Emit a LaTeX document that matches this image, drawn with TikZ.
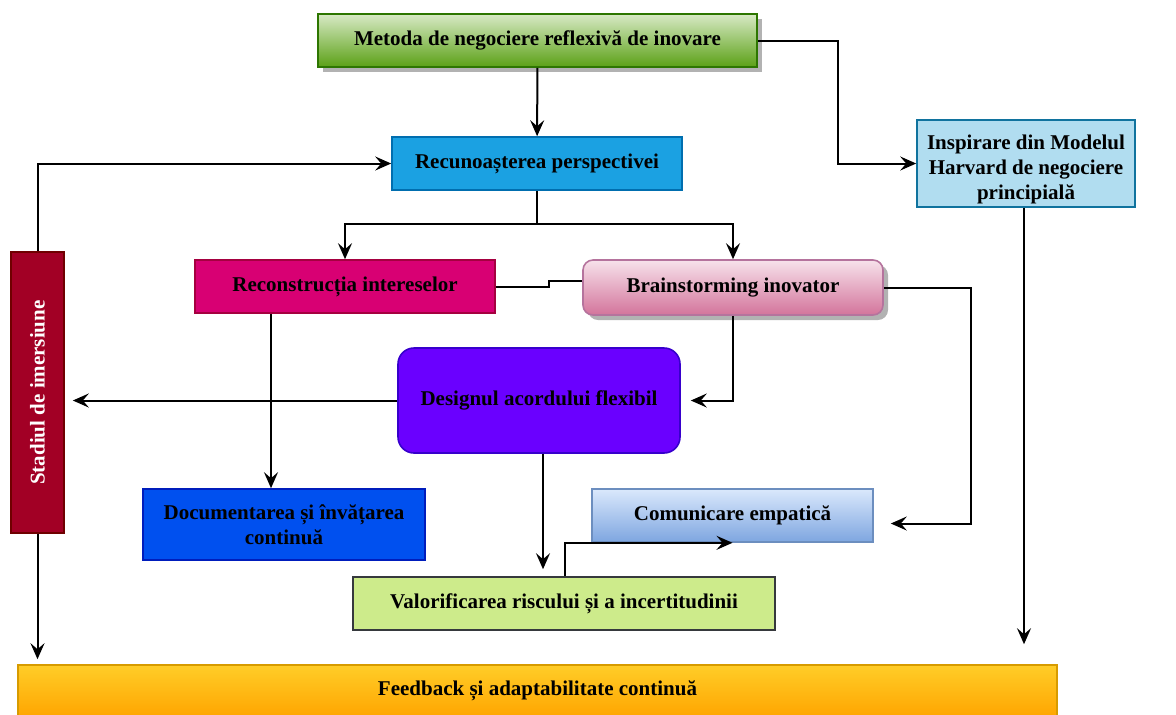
\documentclass[tikz,border=0pt]{standalone}
\usepackage{fontspec}
\setmainfont{Liberation Serif}
\usepackage{graphicx}
\usetikzlibrary{arrows.meta,positioning,shadows}
\definecolor{methgreen}{HTML}{60A917}
\definecolor{methline}{HTML}{2D7600}
\definecolor{recogblue}{HTML}{1BA1E2}
\definecolor{recogline}{HTML}{006EAF}
\definecolor{harvardblue}{HTML}{B1DDF0}
\definecolor{harvardline}{HTML}{10739E}
\definecolor{reconpink}{HTML}{D80073}
\definecolor{reconline}{HTML}{A50040}
\definecolor{braintop}{HTML}{F7E2EB}
\definecolor{brainmid}{HTML}{DE9DB8}
\definecolor{brainbottom}{HTML}{D3749B}
\definecolor{brainline}{HTML}{B5739D}
\definecolor{stagered}{HTML}{A20025}
\definecolor{stageline}{HTML}{6F0000}
\definecolor{designviolet}{HTML}{6A00FF}
\definecolor{designline}{HTML}{3700CC}
\definecolor{docsblue}{HTML}{0050EF}
\definecolor{docsline}{HTML}{001DBC}
\definecolor{commtop}{HTML}{DAE8FC}
\definecolor{commbottom}{HTML}{7EA6E0}
\definecolor{commline}{HTML}{6C8EBF}
\definecolor{riskgreen}{HTML}{CDEB8B}
\definecolor{riskline}{HTML}{36393D}
\definecolor{feedtop}{HTML}{FFCD28}
\definecolor{feedbottom}{HTML}{FFA500}
\definecolor{feedline}{HTML}{D79B00}
\tikzset{
  box/.style={
    draw,
    thick,
    align=center,
    font=\bfseries\fontsize{10.5}{12.6}\selectfont,
    inner sep=2pt,
    minimum height=26.5pt
  },
  shade/.style={
    drop shadow={shadow xshift=2.5pt, shadow yshift=-2.5pt, fill=black!30, opacity=1}
  },
  arrow/.style={
    -{Stealth[length=8pt,width=7pt,inset=3pt]},
    line width=1pt,
    draw=black
  },
  link/.style={
    line width=1pt,
    draw=black
  }
}
\begin{document}
\begin{tikzpicture}[x=0.5pt, y=-0.5pt]

\useasboundingbox (0,0) rectangle (1176,714);

\node[box, shade, draw=methline, top color=methgreen!25!white, middle color=methgreen,
  bottom color=methgreen!95!black, minimum width=219.5pt] (meth) at (537.5,40.5)
  {Metoda de negociere reflexivă de inovare};

\node[box, draw=recogline, fill=recogblue, minimum width=145pt] (recog) at (537,163.5)
  {Recunoașterea perspectivei};

\node[box, draw=harvardline, fill=harvardblue, inner ysep=0pt, minimum width=109pt, minimum height=43.5pt] (harvard) at (1026,163.5)
  {\rule{0pt}{13pt}Inspirare din Modelul\\Harvard de negociere\\principială};

\node[box, draw=reconline, fill=reconpink, minimum width=150pt] (recon) at (345,286.5)
  {Reconstrucția intereselor};

\node[box, shade, draw=brainline, rounded corners=5pt, top color=braintop, middle color=brainmid,
  bottom color=brainbottom, minimum width=150pt, minimum height=27.5pt] (brain) at (733,287.5)
  {Brainstorming inovator};

\node[box, draw=stageline, fill=stagered, text=white, minimum width=26.5pt, minimum height=140.5pt] (stage) at (37.5,392.5)
  {\rotatebox{90}{Stadiul de imersiune}};

\node[box, draw=designline, fill=designviolet, rounded corners=8pt, minimum width=141pt, minimum height=52.5pt] (design) at (539,400.5)
  {Designul acordului flexibil};

\node[box, draw=docsline, fill=docsblue, minimum width=141pt, minimum height=35.5pt] (docs) at (284,524.5)
  {Documentarea și învățarea\\continuă};

\node[box, draw=commline, top color=commtop, bottom color=commbottom, minimum width=140.5pt] (comm) at (732.5,515.5)
  {Comunicare empatică};

\node[box, draw=riskline, fill=riskgreen, minimum width=211pt] (risk) at (564,603.5)
  {Valorificarea riscului și a incertitudinii};

\node[box, draw=feedline, top color=feedtop, bottom color=feedbottom, minimum width=519.5pt, minimum height=26pt] (feedback) at (537.5,691)
  {Feedback și adaptabilitate continuă};

\draw[arrow] (meth) -- (recog);
\draw[arrow] (meth.east) -- ++(80,0) |- (harvard.west);
\draw[arrow] (recog.south) -- ++(0,33) -| (recon.north);
\draw[arrow] (recog.south) -- ++(0,33) -| (brain.north);
\draw[arrow] (stage.north) |- (recog.west);
\draw[link] (recon.east) -- ++(53,0) |- ([yshift=3.5pt]brain.west);
\draw[arrow] ([xshift=-37pt]recon.south) -- ([xshift=-37pt]recon.south |- docs.north);
\draw[arrow, shorten >=5pt] (brain.south) |- (design.east);
\draw[arrow, shorten >=4pt] (design.west) -- (design.west -| stage.east);
\draw[arrow, shorten >=8.5pt] (brain.east) -- ++(87,0) |- ([yshift=-4pt]comm.east);
\draw[arrow, shorten >=3.5pt] ([xshift=2pt]design.south) -- ([xshift=2pt]design.south |- risk.north);
\draw[arrow] ([xshift=0.5pt]risk.north) |- (comm.south);
\draw[arrow, shorten >=2.5pt] (stage.south) -- (stage.south |- feedback.north);
\draw[arrow, shorten >=10pt] ([xshift=-1pt]harvard.south) -- ([xshift=-1pt]harvard.south |- feedback.north);

\end{tikzpicture}
\end{document}
